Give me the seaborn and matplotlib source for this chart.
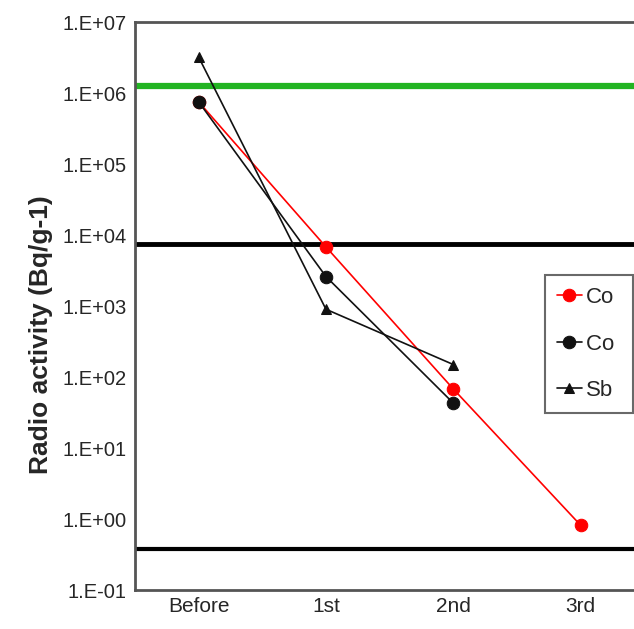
import numpy as np
import pandas as pd
import seaborn as sns
import matplotlib.pyplot as plt
from matplotlib.ticker import FixedLocator

stages = ['Before', '1st', '2nd', '3rd']
co_red = [7.5e5, 6.8e3, 68, 0.82]
co_black = [7.5e5, 2.6e3, 43]
sb = [3.2e6, 9.0e2, 150]
limit_green = 1.25e6
limit_mid = 7.5e3
limit_low = 0.38

sns.set_style('white')
plt.rcParams['font.family'] = ['Liberation Sans', 'DejaVu Sans']

fig = plt.figure(figsize=(6.34, 6.29), dpi=100)
ax = fig.add_axes([0.213, 0.062, 0.803, 0.903])

# limit lines
ax.axhline(limit_green, color='#22b422', lw=4.5, zorder=1)
ax.axhline(limit_mid, color='black', lw=3.5, zorder=1)
ax.axhline(limit_low, color='black', lw=3, zorder=1)

series = [
    ('Co', co_red, 'red', 'o'),
    ('Co ', co_black, '#111111', 'o'),
    ('Sb', sb, '#111111', '^'),
]
for name, vals, col, mk in series:
    df = pd.DataFrame({'x': np.arange(len(vals)), 'y': vals})
    sns.lineplot(data=df, x='x', y='y', ax=ax, color=col, marker=mk,
                 markersize=9 if mk == 'o' else 7, markeredgecolor=col,
                 lw=1.2, label=name, zorder=3)

ax.set_yscale('log')
ax.set_ylim(0.1, 1e7)
ax.set_xlim(-0.5, 3.5)
ax.set_yticks([10.0 ** k for k in range(-1, 8)])
ax.set_yticklabels(['1.E%s%02d' % ('+' if k >= 0 else '-', abs(k)) for k in range(-1, 8)],
                   fontsize=14.5)
ax.yaxis.set_minor_locator(FixedLocator([]))
ax.set_xticks(range(4))
ax.set_xticklabels(stages, fontsize=15)
ax.xaxis.set_minor_locator(FixedLocator([0.5, 1.5, 2.5]))
ax.tick_params(axis='x', which='major', length=0, pad=5)
ax.tick_params(axis='x', which='minor', direction='in', length=4, width=1.2, color='#444')
ax.tick_params(axis='y', which='major', direction='in', length=3, color='#444', pad=6)
ax.set_xlabel('')
ax.set_ylabel('Radio activity (Bq/g-1)', fontsize=19, fontweight='bold')
ax.yaxis.set_label_coords(-0.162, 0.45)

for s in ax.spines.values():
    s.set_color('#555555')
    s.set_linewidth(2)

leg = ax.legend(loc='upper left', bbox_to_anchor=(0.805, 0.555), fontsize=16,
                frameon=True, fancybox=False, handlelength=1.1, handletextpad=0.2,
                labelspacing=1.15, borderpad=0.55, borderaxespad=0)
leg.get_frame().set_edgecolor('#444')
leg.get_frame().set_linewidth(1.5)

fig.savefig('out.png', dpi=100)
